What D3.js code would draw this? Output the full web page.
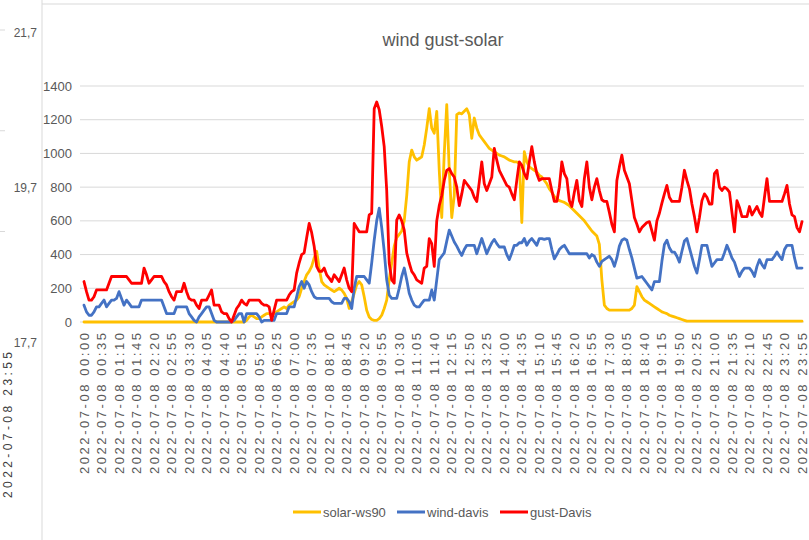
<!DOCTYPE html>
<html>
<head>
<meta charset="utf-8">
<script src="https://cdn.jsdelivr.net/npm/d3@7"></script>
<style>
  body { margin: 0; background: #fff; }
  svg { display: block; }
  text { font-family: "Liberation Sans Narrow", "Liberation Sans", sans-serif; fill: #595959; }
</style>
</head>
<body>
<div id="chart"></div>
<script>
const w = 809;
const h = 540;

// one label every 35 minutes (every 7th 5-minute sample)
const tickLabels = [
  '2022-07-08 00:00', '2022-07-08 00:35', '2022-07-08 01:10', '2022-07-08 01:45', '2022-07-08 02:20',
  '2022-07-08 02:55', '2022-07-08 03:30', '2022-07-08 04:05', '2022-07-08 04:40', '2022-07-08 05:15',
  '2022-07-08 05:50', '2022-07-08 06:25', '2022-07-08 07:00', '2022-07-08 07:35', '2022-07-08 08:10',
  '2022-07-08 08:45', '2022-07-08 09:20', '2022-07-08 09:55', '2022-07-08 10:30', '2022-07-08 11:05',
  '2022-07-08 11:40', '2022-07-08 12:15', '2022-07-08 12:50', '2022-07-08 13:25', '2022-07-08 14:00',
  '2022-07-08 14:35', '2022-07-08 15:10', '2022-07-08 15:45', '2022-07-08 16:20', '2022-07-08 16:55',
  '2022-07-08 17:30', '2022-07-08 18:05', '2022-07-08 18:40', '2022-07-08 19:15', '2022-07-08 19:50',
  '2022-07-08 20:25', '2022-07-08 21:00', '2022-07-08 21:35', '2022-07-08 22:10', '2022-07-08 22:45',
  '2022-07-08 23:20', '2022-07-08 23:55'
];
const tickStep = 7;

// 288 samples, one row per hour
const solar = [
  0,0,0,0,0,0,0,0,0,0,0,0,
  0,0,0,0,0,0,0,0,0,0,0,0,
  0,0,0,0,0,0,0,0,0,0,0,0,
  0,0,0,0,0,0,0,0,0,0,0,0,
  0,0,0,0,0,0,0,0,0,0,0,0,
  0,0,0,0,0,10,30,40,30,20,20,30,
  40,50,50,40,50,60,70,80,90,80,100,110,
  120,130,150,200,240,280,300,330,380,420,320,240,
  220,210,200,190,180,190,200,190,170,140,80,120,
  170,220,240,220,150,70,30,15,10,10,20,40,
  80,130,250,350,450,500,520,540,600,750,950,1020,
  980,960,970,980,1050,1150,1265,1150,1120,1250,900,620,
  1000,1290,900,620,750,1230,1240,1235,1250,1265,1230,1090,
  1210,1150,1110,1090,1070,1050,1030,1020,1010,1000,990,985,
  980,970,960,955,950,950,940,590,1010,950,920,910,
  900,890,870,860,840,820,790,770,745,730,720,715,
  710,700,690,675,660,645,630,615,600,580,560,540,
  525,510,460,250,100,80,70,70,70,70,70,70,
  70,70,70,80,100,210,180,150,130,120,110,100,
  90,80,70,60,55,50,40,35,30,25,20,15,
  10,5,5,5,5,5,5,5,5,5,5,5,
  5,5,5,5,5,5,5,5,5,5,5,5,
  5,5,5,5,5,5,5,5,5,5,5,5,
  5,5,5,5,5,5,5,5,5,5,5,5
];

const wind = [
  100,60,40,40,60,90,90,110,130,90,110,130,
  130,140,180,140,100,130,110,90,90,90,90,130,
  130,130,130,130,130,130,130,130,90,50,50,50,
  50,90,90,90,90,90,50,30,10,0,30,50,
  70,90,90,50,10,0,0,0,0,0,0,0,
  10,30,50,50,0,50,50,50,50,50,30,0,
  10,10,10,10,10,50,50,50,50,50,90,90,
  90,150,210,240,200,240,220,180,150,140,140,140,
  140,140,140,120,110,110,110,110,140,140,120,80,
  200,270,270,270,270,250,230,350,485,600,675,560,
  420,250,160,140,140,140,200,270,320,250,170,130,
  100,90,90,110,130,130,130,190,130,250,370,390,
  410,480,545,510,475,450,420,395,430,455,455,455,
  455,405,450,495,450,405,440,470,490,465,445,445,
  445,400,370,410,455,455,470,470,495,455,480,495,
  475,455,495,495,490,495,495,430,375,400,430,445,
  455,430,405,405,405,405,405,405,405,405,380,400,
  390,355,330,360,370,380,390,370,330,380,450,485,
  495,485,430,380,320,260,265,270,250,230,210,190,
  240,240,240,360,460,485,440,415,415,390,355,420,
  480,495,440,385,330,290,370,455,455,455,390,330,
  350,370,370,370,410,455,420,380,355,310,270,300,
  320,320,320,300,270,330,370,340,320,370,370,370,
  390,415,390,370,430,455,455,455,380,320,320,320
];

const gust = [
  240,180,130,130,150,190,190,190,190,190,230,270,
  270,270,270,270,270,270,250,230,230,230,230,230,
  320,280,230,250,270,270,270,270,240,220,180,150,
  130,180,180,180,230,180,140,130,130,100,80,130,
  130,130,160,190,100,100,100,60,50,50,20,0,
  40,80,100,130,110,100,130,130,130,130,130,110,
  100,100,90,10,70,130,130,130,130,130,160,180,
  190,290,350,400,410,500,585,530,450,330,300,300,
  320,280,260,240,280,260,240,280,320,250,200,180,
  585,560,535,535,535,535,635,645,1265,1305,1260,1160,
  1040,780,350,250,230,605,635,600,545,410,350,300,
  280,250,240,230,320,330,495,465,330,600,690,750,
  840,900,910,880,860,800,690,760,840,820,800,780,
  740,715,830,950,820,780,820,860,1030,960,900,870,
  840,810,800,760,725,840,950,930,880,850,950,1040,
  950,880,840,850,850,850,850,780,715,715,800,950,
  880,850,720,685,770,840,720,685,850,950,800,725,
  800,850,780,725,715,715,650,580,535,840,920,990,
  900,860,820,720,620,580,535,560,575,590,595,540,
  485,600,645,705,760,810,740,715,715,715,715,800,
  900,840,790,700,625,535,620,720,760,740,700,700,
  880,900,800,780,800,790,770,650,535,720,680,625,
  625,625,685,635,660,685,650,625,740,850,715,715,
  715,715,715,715,760,810,700,635,625,560,535,595
];

const seriesNames = ['solar-ws90', 'wind-davis', 'gust-Davis'];
const seriesColors = ['#ffc000', '#4472c4', '#ff0000'];
const seriesData = [solar, wind, gust];

// bits of the neighbouring chart that show on the left edge
const leftAxisLabels = ['21,7', '19,7', '17,7'];
const leftAxisValues = [21.7, 19.7, 17.7];
const leftLastLabel = '2022-07-08 23:55';

const svg = d3.select('#chart')
  .append('svg')
  .attr('width', w)
  .attr('height', h);

svg.append('rect').attr('width', w).attr('height', h).attr('fill', '#fff');

// --- left fragment ---
const yLeft = d3.scaleLinear().domain([17.7, 21.7]).range([343, 33]);
svg.selectAll('.left-lab')
  .data(leftAxisLabels)
  .enter()
  .append('text')
  .attr('class', 'left-lab')
  .attr('x', 37)
  .attr('y', (d, i) => yLeft(leftAxisValues[i]))
  .attr('dy', '.35em')
  .style('text-anchor', 'end')
  .style('font-size', '12px')
  .text(d => d);

svg.selectAll('.left-grid')
  .data([21.7, 20.4, 19.1])
  .enter()
  .append('line')
  .attr('x1', 0).attr('x2', 5)
  .attr('y1', d => yLeft(d) - 3).attr('y2', d => yLeft(d) - 3)
  .attr('stroke', '#d9d9d9');

svg.append('text')
  .attr('transform', 'translate(8,352) rotate(-90)')
  .attr('dy', '.35em')
  .style('text-anchor', 'end')
  .style('font-size', '12px')
  .style('fill', '#404040')
  .attr('textLength', 146)
  .attr('lengthAdjust', 'spacing')
  .text(leftLastLabel);

// chart frame
svg.append('line').attr('x1', 42).attr('x2', 42).attr('y1', 0).attr('y2', h).attr('stroke', '#d9d9d9');
svg.append('line').attr('x1', 42).attr('x2', w).attr('y1', 4).attr('y2', 4).attr('stroke', '#d9d9d9');

// --- main chart ---
const xScale = d3.scaleLinear().domain([0, solar.length - 1]).range([84, 802]);
const yScale = d3.scaleLinear().domain([0, 1400]).range([322, 86]);

svg.append('text')
  .attr('x', 443)
  .attr('y', 46)
  .style('text-anchor', 'middle')
  .style('font-size', '18px')
  .text('wind gust-solar');

const yTicks = d3.range(0, 1401, 200);
svg.append('g')
  .selectAll('line')
  .data(yTicks)
  .enter()
  .append('line')
  .attr('x1', 80)
  .attr('x2', 804)
  .attr('y1', d => yScale(d))
  .attr('y2', d => yScale(d))
  .attr('stroke', '#d9d9d9')
  .attr('stroke-width', 1);

svg.append('g')
  .selectAll('text')
  .data(yTicks)
  .enter()
  .append('text')
  .attr('x', 72)
  .attr('y', d => yScale(d))
  .attr('dy', '.35em')
  .style('text-anchor', 'end')
  .style('font-size', '13px')
  .text(d => d);

svg.append('g')
  .selectAll('text')
  .data(tickLabels)
  .enter()
  .append('text')
  .attr('transform', (d, i) => 'translate(' + xScale(i * tickStep) + ',333) rotate(-90)')
  .attr('dy', '.35em')
  .style('text-anchor', 'end')
  .style('font-size', '13px')
  .attr('textLength', 141)
  .attr('lengthAdjust', 'spacing')
  .text(d => d);

const line = d3.line()
  .x((d, i) => xScale(i))
  .y(d => yScale(d));

seriesData.forEach(function (data, k) {
  svg.append('path')
    .datum(data)
    .attr('d', line)
    .attr('fill', 'none')
    .attr('stroke', seriesColors[k])
    .attr('stroke-width', 2.8)
    .attr('stroke-linejoin', 'round')
    .attr('stroke-linecap', 'round');
});

// legend
const legendX = [293, 397, 500];
const legend = svg.append('g').attr('id', 'legend');
seriesNames.forEach(function (name, k) {
  legend.append('line')
    .attr('x1', legendX[k])
    .attr('x2', legendX[k] + 28)
    .attr('y1', 512)
    .attr('y2', 512)
    .attr('stroke', seriesColors[k])
    .attr('stroke-width', 3);
  legend.append('text')
    .attr('x', legendX[k] + 30)
    .attr('y', 512)
    .attr('dy', '.35em')
    .style('font-size', '13px')
    .text(name);
});
</script>
</body>
</html>
